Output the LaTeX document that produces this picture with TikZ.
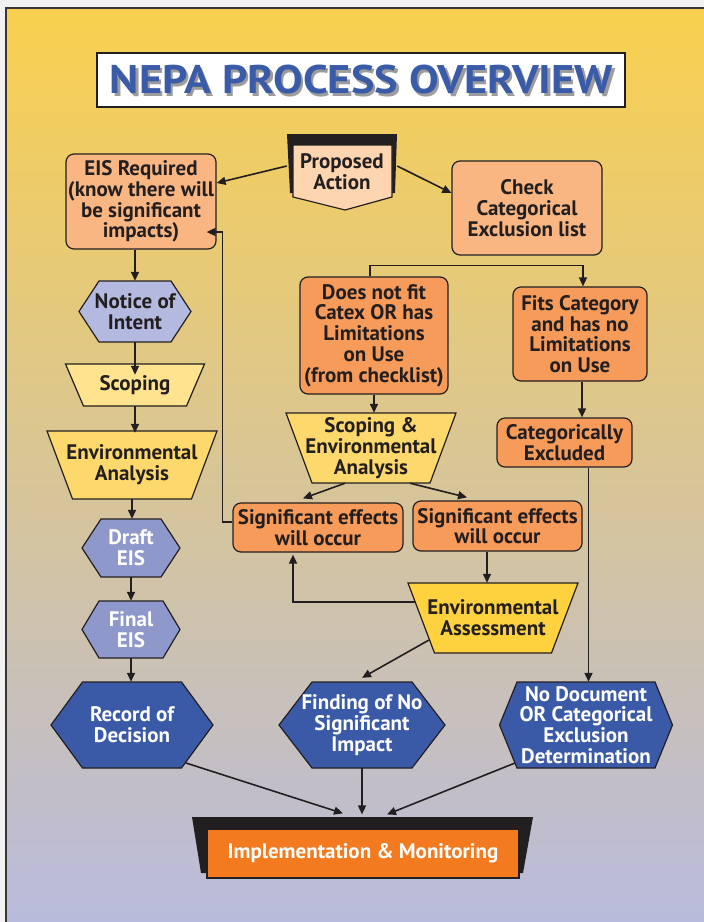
\documentclass[tikz,border=0pt]{standalone}
\usepackage{fontspec}
\setmainfont{PT Sans}
\usetikzlibrary{arrows.meta}
\definecolor{ink}{HTML}{231F20}
\definecolor{bgtop}{HTML}{F9D04E}
\definecolor{bgmid}{HTML}{DCC8A2}
\definecolor{bgbot}{HTML}{B8BBDE}
\definecolor{outerbg}{HTML}{F2F2F2}
\definecolor{salmon}{HTML}{F9B682}
\definecolor{orng}{HTML}{F79B5A}
\definecolor{peach}{HTML}{FDD5B0}
\definecolor{noifill}{HTML}{B4BADF}
\definecolor{scopefill}{HTML}{FFE38E}
\definecolor{eafillA}{HTML}{FDD86C}
\definecolor{eafillB}{HTML}{FED23F}
\definecolor{periw}{HTML}{8E98CB}
\definecolor{navy}{HTML}{3A5AA8}
\definecolor{implorange}{HTML}{F47A20}
\definecolor{titleblue}{HTML}{3A5BA8}
\definecolor{shadowgray}{HTML}{9C9C9C}
\newcommand\hexshape[6]{%
  \path[#6] (#1-#4,#2) -- (#1-#3,#2-#5) -- (#1+#3,#2-#5) -- (#1+#4,#2) -- (#1+#3,#2+#5) -- (#1-#3,#2+#5) -- cycle;}
\newcommand\trapshape[6]{%
  \path[#6] (#1-#3,#2-#5) -- (#1+#3,#2-#5) -- (#1+#4,#2+#5) -- (#1-#4,#2+#5) -- cycle;}
\newcommand\titletext{\resizebox{503pt}{28.5pt}{\bfseries NEPA PROCESS OVERVIEW}}
\begin{document}
\begin{tikzpicture}[x=1pt,y=-1pt,
  txt/.style={font=\bfseries\fontsize{21}{20.7}\selectfont, text=ink, align=center, inner sep=0pt},
  wtxt/.style={txt, text=white},
  box/.style={txt, draw=ink, line width=1.2pt, rounded corners=8pt},
  shp/.style={draw=ink, line width=1.2pt},
  arr/.style={draw=ink, line width=1.6pt, -{Triangle[length=9pt,width=8pt]}}]
\useasboundingbox (0,0) rectangle (704,922);
\clip (0,0) rectangle (704,922);
% background
\fill[outerbg] (0,0) rectangle (704,922);
\shade[top color=bgtop, middle color=bgmid, bottom color=bgbot] (6,8) rectangle (712,930);
\draw[ink!90, line width=2.5pt] (6,932) -- (6,8) -- (712,8);
% title
\node[draw=ink, line width=1.5pt, fill=white, minimum width=528pt, minimum height=54pt, inner sep=0pt] (titlebox) at (361,80) {};
\node[inner sep=0pt] (title) at (361.5,79.5) {\makebox[0pt][l]{\hspace{2.5pt}\raisebox{-3pt}[0pt][0pt]{\color{shadowgray}\titletext}}\color{titleblue}\titletext};
% proposed action
\fill[ink] (287,134) -- (397,134) -- (395,193) -- (290,193) -- cycle;
\path[shp, fill=peach] (293,145) -- (392,145) -- (392,197) -- (345,210) -- (293,197) -- cycle;
\node[txt, minimum width=110pt, minimum height=76pt] (pa) at (342,172) {Proposed\\Action};
% left column
\node[box, fill=salmon, minimum width=150pt, minimum height=95pt] (eis) at (141,201.5) {EIS Required\\(know there will\\be significant\\impacts)};
\hexshape{135}{311.5}{36}{56}{30.5}{shp, fill=noifill}
\node[txt, minimum width=112pt, minimum height=61pt] (noi) at (135,311.5) {Notice of\\Intent};
\trapshape{135}{385}{69.5}{51.5}{21}{shp, fill=scopefill}
\node[txt, minimum width=139pt, minimum height=42pt] (scop) at (135,385) {Scoping};
\trapshape{132}{465}{85}{59.5}{34}{shp, fill=eafillA}
\node[txt, minimum width=170pt, minimum height=68pt] (ean) at (132,465) {Environmental\\Analysis};
\hexshape{131}{548}{30}{49}{29}{shp, fill=periw}
\node[wtxt, minimum width=98pt, minimum height=58pt] (draft) at (131,548) {Draft\\EIS};
\hexshape{131}{629.5}{32}{49}{28.5}{shp, fill=periw}
\node[wtxt, minimum width=98pt, minimum height=57pt] (final) at (131,629.5) {Final\\EIS};
\hexshape{132}{725}{49.5}{81}{43}{shp, fill=navy}
\node[wtxt, minimum width=162pt, minimum height=86pt] (rod) at (132,725) {Record of\\Decision};
% right part
\node[box, fill=salmon, minimum width=150pt, minimum height=94pt] (chk) at (527,208) {Check\\Categorical\\Exclusion list};
\node[box, fill=orng, minimum width=148pt, minimum height=117pt] (dnf) at (374,335.5) {Does not fit\\Catex OR has\\Limitations\\on Use\\(from checklist)};
\node[box, fill=orng, minimum width=134pt, minimum height=94pt] (fits) at (580,334) {Fits Category\\and has no\\Limitations\\on Use};
\node[box, fill=orng, minimum width=135pt, minimum height=49pt] (catex) at (564.5,442.5) {Categorically\\Excluded};
\trapshape{371}{448}{85}{59}{35}{shp, fill=eafillA}
\node[txt, minimum width=170pt, minimum height=70pt] (sea) at (371,448) {Scoping \&\\Environmental\\Analysis};
\node[box, fill=orng, minimum width=170pt, minimum height=49pt] (sigl) at (318,527.5) {Significant effects\\will occur};
\node[box, fill=orng, minimum width=169pt, minimum height=50pt] (sigr) at (497.5,526) {Significant effects\\will occur};
\trapshape{493}{618}{85}{58.5}{35}{shp, fill=eafillB}
\node[txt, minimum width=170pt, minimum height=70pt] (ea) at (493,618) {Environmental\\Assessment};
\hexshape{362}{725}{50}{83}{43}{shp, fill=navy}
\node[wtxt, minimum width=166pt, minimum height=86pt] (fonsi) at (362,725) {Finding of No\\Significant\\Impact};
\hexshape{586}{725}{69}{86.5}{43}{shp, fill=navy}
\node[wtxt, minimum width=173pt, minimum height=86pt] (nodoc) at (586,725) {No Document\\OR Categorical\\Exclusion\\Determination};
% implementation
\fill[ink] (192,817) -- (533,817) -- (523,873) -- (201,873) -- cycle;
\node[wtxt, draw=ink, line width=1.2pt, fill=implorange, minimum width=312pt, minimum height=49pt] (impl) at (363,853.5) {Implementation \& Monitoring};
% connectors
\draw[arr] ([yshift=6pt]pa.west) -- ([yshift=18.5pt]eis.east);
\draw[arr] ([yshift=6pt]pa.east) -- ([yshift=15pt]chk.west);
\draw[arr] (eis.south -| noi.north) -- (noi.north);
\draw[arr] (noi.south) -- ([yshift=-11pt]noi.south |- scop.north);
\draw[arr] (scop.south) -- ([yshift=-2pt]scop.south |- ean.north);
\draw[arr] (ean.south) -- (ean.south |- draft.north);
\draw[arr] (draft.south) -- (draft.south |- final.north);
\draw[arr] (final.south) -- (final.south |- rod.north);
\draw[arr] ([xshift=-4pt]dnf.north) -- ++(0,-11) -| ([xshift=3pt]fits.north);
\draw[arr] (dnf.south) -- (dnf.south |- sea.north);
\draw[arr] ([xshift=2pt]fits.south) -- ([xshift=2pt]fits.south |- catex.north);
\draw[arr] ([xshift=24pt]catex.south) -- ([xshift=24pt]catex.south |- nodoc.north);
\draw[arr] ([xshift=-26pt]sea.south) -- ([xshift=-15pt,yshift=4pt]sigl.north);
\draw[arr] ([xshift=39pt]sea.south) -- ([xshift=-30.5pt,yshift=3pt]sigr.north);
\draw[arr] ([yshift=5.5pt]sigl.west) -- ++(-10,0) |- ([xshift=-10pt,yshift=-30.5pt]eis.east);
\draw[arr] ([xshift=-10.5pt]sigr.south) -- ([xshift=-10.5pt]sigr.south |- ea.north);
\draw[arr] ([xshift=-78pt,yshift=16pt]ea.center) -| ([xshift=-25pt,yshift=-2pt]sigl.south);
\draw[arr] ([xshift=-64pt,yshift=-22pt]ea.center) -- ([yshift=4pt]fonsi.north);
\draw[arr] ([xshift=54pt,yshift=-38pt]rod.center) -- ([xshift=-20pt,yshift=15pt]impl.north);
\draw[arr] (fonsi.south) -- ([yshift=14pt]fonsi.south |- impl.north);
\draw[arr] ([xshift=-71pt,yshift=-38pt]nodoc.center) -- ([xshift=24pt,yshift=14pt]impl.north);
\end{tikzpicture}
\end{document}
